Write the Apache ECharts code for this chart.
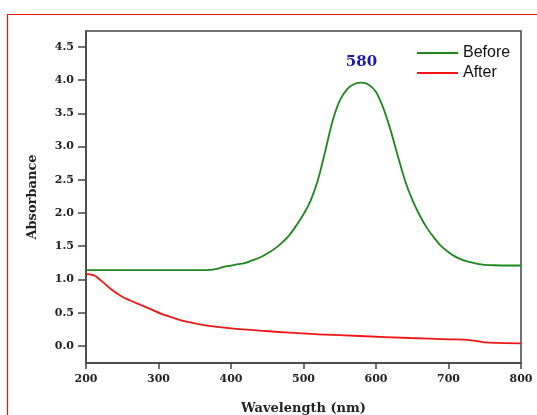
<!DOCTYPE html>
<html><head><meta charset="utf-8">
<script src="https://cdn.jsdelivr.net/npm/echarts@6/dist/echarts.min.js"></script>
<style>html,body{margin:0;padding:0;background:#fff}#c{width:537px;height:415px}</style>
</head><body><div id="c"></div>
<script>
var seriesNames = ['Before', 'After'];
var beforeX = [200,250,300,350,370,380,390,400,410,420,430,440,450,460,470,480,490,500,510,520,530,540,550,560,570,580,590,600,610,620,630,640,650,660,670,680,690,700,710,720,730,740,750,760,780,800];
var beforeY = [1.14,1.14,1.14,1.14,1.145,1.16,1.19,1.21,1.23,1.25,1.29,1.33,1.39,1.46,1.55,1.66,1.81,1.98,2.19,2.50,2.93,3.38,3.69,3.86,3.94,3.96,3.93,3.82,3.58,3.25,2.86,2.49,2.20,1.97,1.78,1.63,1.50,1.41,1.34,1.29,1.26,1.235,1.22,1.215,1.21,1.21];
var afterX = [200,210,220,235,250,262,275,290,305,330,350,367,400,435,480,520,578,647,700,720,735,755,800];
var afterY = [1.08,1.065,0.99,0.85,0.74,0.68,0.62,0.55,0.48,0.39,0.34,0.305,0.265,0.236,0.20,0.176,0.15,0.12,0.10,0.095,0.08,0.05,0.04];
var yTicks = [0,0.5,1,1.5,2,2.5,3,3.5,4,4.5];
var peakLabel = {x: 580, y: 4.27, text: '580'};

function pairs(xs, ys){ return xs.map(function(x,i){ return [x, ys[i]]; }); }

var chart = echarts.init(document.getElementById('c'), null, {renderer:'canvas'});
var serif = 'DejaVu Serif';
chart.setOption({
  animation: false,
  grid: {left: 86, right: 16, top: 31, bottom: 52, show: true, borderColor: '#444', borderWidth: 1.5, containLabel: false, outerBoundsMode: 'none'},
  legend: {
    orient: 'vertical', left: 416, top: 45, padding: 0, itemWidth: 41, itemHeight: 14, itemGap: 4,
    data: seriesNames,
    itemStyle: {opacity: 0},
    textStyle: {fontFamily: 'Liberation Sans', fontSize: 16, color: '#111'}
  },
  xAxis: {
    type: 'value', min: 200, max: 800, interval: 100,
    name: 'Wavelength (nm)', nameLocation: 'middle', nameGap: 39,
    nameTextStyle: {fontFamily: serif, fontWeight: 'bold', fontSize: 13, color: '#222'},
    axisLine: {show: true, onZero: false, lineStyle: {color: '#444', width: 1.5}},
    axisTick: {show: true, inside: false, length: 6, lineStyle: {color: '#444', width: 1.5}},
    axisLabel: {fontFamily: serif, fontWeight: 'bold', fontSize: 11, color: '#222', margin: 11},
    splitLine: {show: false}
  },
  yAxis: {
    type: 'value', min: -0.256, max: 4.737,
    name: 'Absorbance', nameLocation: 'middle', nameGap: 47, nameRotate: 90,
    nameTextStyle: {fontFamily: serif, fontWeight: 'bold', fontSize: 13, color: '#222'},
    axisLine: {show: true, onZero: false, lineStyle: {color: '#444', width: 1.5}},
    axisTick: {show: true, inside: false, length: 8, customValues: yTicks, lineStyle: {color: '#444', width: 1.5}},
    axisLabel: {fontFamily: serif, fontWeight: 'bold', fontSize: 11, color: '#222', margin: 12, customValues: yTicks,
      formatter: function(v){ return v.toFixed(1); }},
    splitLine: {show: false}
  },
  series: [
    {name: seriesNames[0], type: 'line', data: pairs(beforeX, beforeY), smooth: 0.3, symbol: 'none',
     lineStyle: {color: '#1f861f', width: 1.8}, itemStyle: {color: '#1f861f'},
     markPoint: {symbol: 'circle', symbolSize: 0, silent: true,
       data: [{coord: [peakLabel.x, peakLabel.y], value: peakLabel.text}],
       label: {show: true, position: 'inside', formatter: peakLabel.text, fontFamily: serif, fontWeight: 'bold', fontSize: 15, color: '#1c1ca8'}}},
    {name: seriesNames[1], type: 'line', data: pairs(afterX, afterY), smooth: 0.5, symbol: 'none',
     lineStyle: {color: '#f01616', width: 1.8}, itemStyle: {color: '#f01616'}}
  ],
  graphic: [
    {type: 'line', shape: {x1: 7, y1: 14.5, x2: 537, y2: 14.5}, style: {stroke: '#ee1111', lineWidth: 1.2}, silent: true},
    {type: 'line', shape: {x1: 7.5, y1: 14, x2: 7.5, y2: 415}, style: {stroke: '#ee1111', lineWidth: 1.2}, silent: true}
  ]
});
</script></body></html>
